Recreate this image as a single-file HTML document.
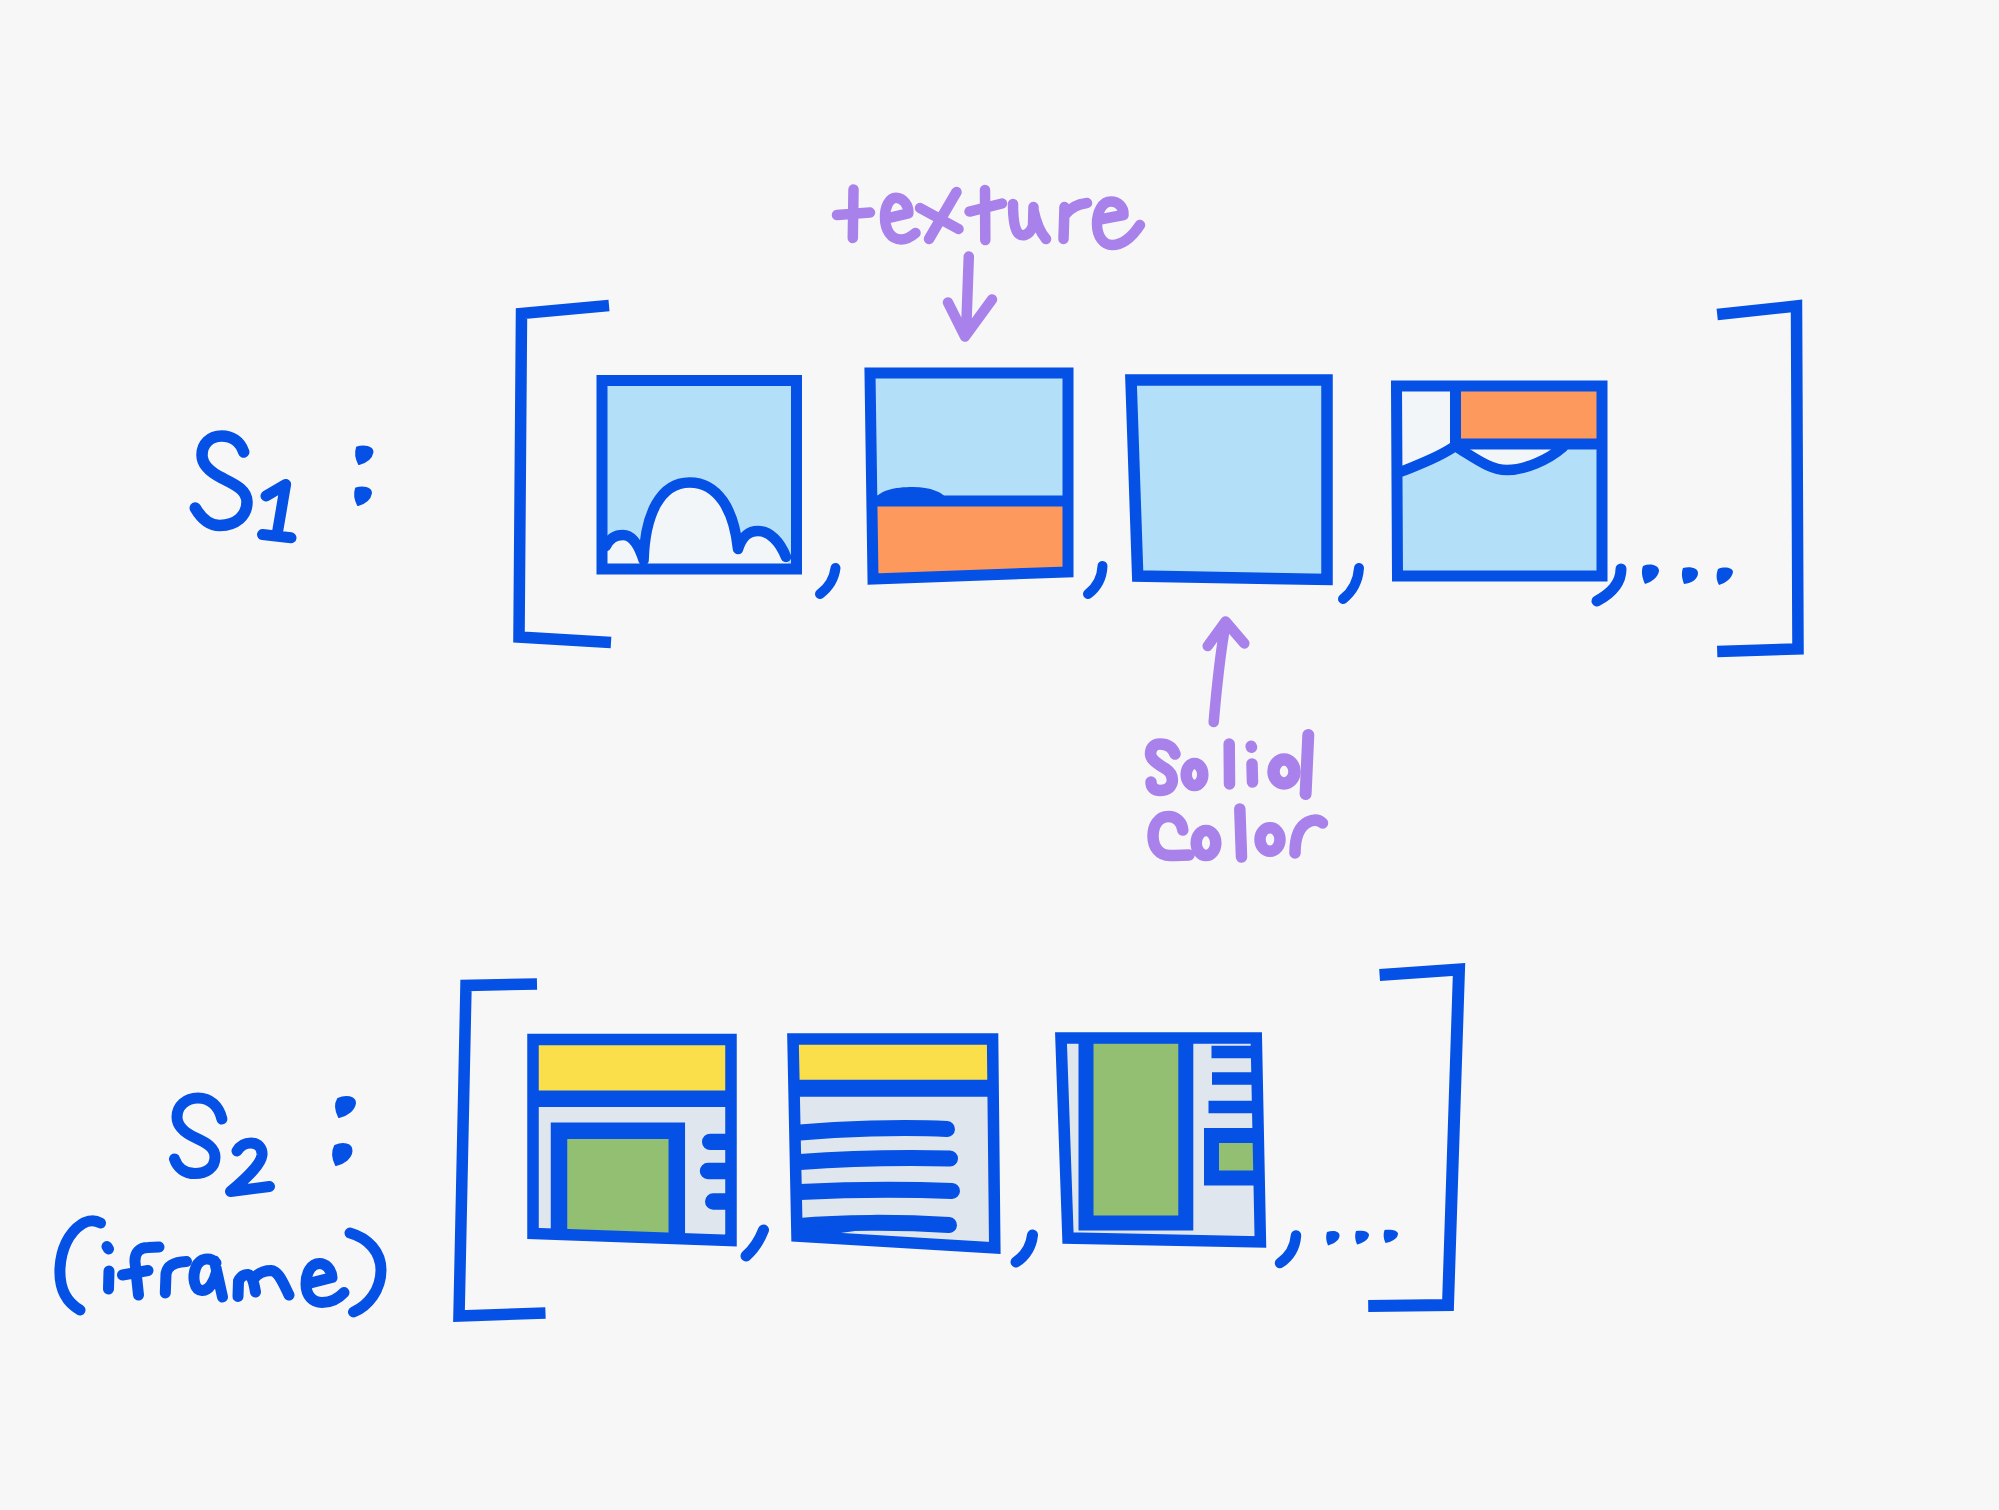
<!DOCTYPE html>
<html><head><meta charset="utf-8"><title>Diagram</title>
<style>
html,body{margin:0;padding:0;background:#f7f7f7;font-family:"Liberation Sans",sans-serif;}
svg{display:block;}
</style></head>
<body>
<svg width="1999" height="1510" viewBox="0 0 1999 1510">
<rect x="0" y="0" width="1999" height="1510" fill="#f7f7f7"/>

<!-- ============ ROW 1 ============ -->
<g id="row1" fill="none" stroke="#0550e5" stroke-width="11" stroke-linecap="round" stroke-linejoin="round">
  <!-- S1 -->
  <path d="M243.7,452 C240,441 231,436 221.7,436 C210,436 202,444 202,455 C202,466 212,473 222,478 C236,485 247,490 247,502 C247,516 236,525 220,525.5 C208,525.7 200,516 195.3,508" stroke-width="11.5"/>
  <path d="M266,496 L285.6,484.4 L277.3,533.4 M262.5,534.5 L291,537.8" stroke-width="11"/>
  <!-- colon -->
  <path d="M357,447.5 C364,445 372.5,447 372.5,452 C371.5,457.5 366,462 359,464 C356.5,459 355.5,452 357,447.5 Z" fill="#0550e5" stroke-width="2"/>
  <path d="M356,488.5 C363,486 371,488 371,493 C370,498.5 365,503 358,505 C355.5,500 354.5,493 356,488.5 Z" fill="#0550e5" stroke-width="2"/>

  <!-- left bracket -->
  <path d="M609,305.5 L521.5,313.5 L519,637 L611,642.5" stroke-width="11.5" stroke-linejoin="miter" stroke-linecap="butt"/>
  <!-- right bracket -->
  <path d="M1717.2,314.5 L1796.5,306 L1798,649 L1717.2,651.5" stroke-width="11.5" stroke-linejoin="miter" stroke-linecap="butt"/>
</g>

<!-- box 1 -->
<g>
  <rect x="602" y="380.5" width="194.5" height="188.5" fill="#b4dff8"/>
  <path d="M606,546 C610,538 615,535 623,535 C632,535 639,546 643.6,560 C645,515 660,482.4 689.6,482.4 C718,482.4 734,510 738,549 C742,537 748,531 758,531 C770,531 780,542 786,557 L790,569 L606,569 Z" fill="#f3f6f9"/>
  <path d="M606,546 C610,538 615,535 623,535 C632,535 639,546 643.6,560 C645,515 660,482.4 689.6,482.4 C718,482.4 734,510 738,549 C742,537 748,531 758,531 C770,531 780,542 786,557" fill="none" stroke="#0550e5" stroke-width="10.5" stroke-linecap="round" stroke-linejoin="round"/>
  <path d="M602,380.5 L796.5,380.5 L796.5,569 L602,569 Z" fill="none" stroke="#0550e5" stroke-width="11" stroke-linejoin="miter"/>
  <path d="M835.5,568 C834,580 828,588 820,594" fill="none" stroke="#0550e5" stroke-width="10" stroke-linecap="round"/>
</g>

<!-- box 2 -->
<g>
  <path d="M870,373 L1068,373 L1068,501 L871.5,501 Z" fill="#b4dff8"/>
  <path d="M871.5,501 L1068,501 L1068,572 L873,579 Z" fill="#fd995c"/>
  <path d="M874,501 C878,490 895,487 913,487 C930,487 944,492 948,501 Z" fill="#0550e5"/>
  <path d="M871.5,501 L1068,501" stroke="#0550e5" stroke-width="11" fill="none"/>
  <path d="M870,373 L1068,373 L1068,572 L873,579 Z" fill="none" stroke="#0550e5" stroke-width="11" stroke-linejoin="miter"/>
  <path d="M1102.5,566 C1102,578 1096,588 1088,594" fill="none" stroke="#0550e5" stroke-width="10" stroke-linecap="round"/>
</g>

<!-- box 3 -->
<g>
  <path d="M1131,380 L1327,380 L1327,579.5 L1137.7,576 Z" fill="#b4dff8" stroke="#0550e5" stroke-width="11.5" stroke-linejoin="miter"/>
  <path d="M1359,568 C1358,582 1352,592 1343,599" fill="none" stroke="#0550e5" stroke-width="10" stroke-linecap="round"/>
</g>

<!-- box 4 -->
<g>
  <path d="M1396.5,386 L1602,386 L1602,576 L1397.5,576 Z" fill="#b4dff8"/>
  <path d="M1401,391 L1455.5,391 L1455.5,446 C1445,453 1430,460 1401,471 Z" fill="#f3f6f9"/>
  <rect x="1455" y="386" width="147" height="58" fill="#fd995c"/>
  <path d="M1456,447 C1470,455 1490,470 1507,470 C1525,470 1550,458 1563,449 L1563,444 L1456,444 Z" fill="#f3f6f9"/>
  <path d="M1401.5,471.5 C1420,464 1440,457 1455,446 C1475,458 1490,470 1507,470 C1525,470 1548,460 1563,447" fill="none" stroke="#0550e5" stroke-width="10.5" stroke-linecap="round" stroke-linejoin="round"/>
  <path d="M1455.5,386 L1455.5,444 L1602,444" fill="none" stroke="#0550e5" stroke-width="11" stroke-linejoin="miter"/>
  <path d="M1396.5,386 L1602,386 L1602,576 L1397.5,576 Z" fill="none" stroke="#0550e5" stroke-width="11" stroke-linejoin="miter"/>
  <path d="M1621,569 C1621,584 1610,594 1597,601" fill="none" stroke="#0550e5" stroke-width="11" stroke-linecap="round"/>
  <!-- dots -->
  <path d="M1643,566 C1650,563 1659,565 1659,571 C1658,577 1652,582 1645,584 C1642,578 1641,571 1643,566 Z" fill="#0550e5"/>
  <path d="M1683,568 C1690,566 1698,568 1698,573 C1698,579 1692,583 1684,584 C1682,579 1681,573 1683,568 Z" fill="#0550e5"/>
  <path d="M1718,569 C1725,566 1733,568 1733,572 C1732,578 1726,583 1719,585 C1716,580 1716,574 1718,569 Z" fill="#0550e5"/>
</g>

<!-- purple annotations -->
<g fill="none" stroke="#a881ea" stroke-width="10.5" stroke-linecap="round" stroke-linejoin="round">
  <!-- texture -->
  <path d="M853.5,189.5 L852.8,238 M837,215 L870,212.6"/>
  <path d="M887,218.4 L908.3,213.4 C909,205 903,197.7 896,197.7 C889,197.7 885,207 885,217 C885,230 891,239.5 901,239.5 C907,239.5 912,236 915.5,233"/>
  <path d="M920,208 L958.5,229 M956.5,192 L929,239"/>
  <path d="M985,190 L985.3,240 M969.5,211.6 L1002,203.5"/>
  <path d="M1013,204 C1013,215 1014,228 1018,233 C1022,237 1029,236 1033,226 L1033.5,207 M1033.5,210 C1036,222 1040,232 1046,239"/>
  <path d="M1064.5,207 L1063.5,239 M1065,215 C1070,208 1078,204 1087,203"/>
  <path d="M1097,220 L1123.5,215 C1124,207 1118,201.5 1111,201.5 C1102,201.5 1097,212 1097,224 C1097,237 1104,245 1112,245 C1124,245 1134,234 1140,225"/>
  <!-- arrow down -->
  <path d="M968.8,256.5 L966,335 M948,302.5 L965,336.5 L992,299.5"/>
  <!-- arrow up -->
  <path d="M1213.7,722 C1216,695 1220,655 1225.5,624 M1207.7,646 L1225.5,621.5 L1244.3,643.4"/>
  <!-- Solid -->
  <g stroke-width="11.5">
  <path d="M1175,754 C1172,746 1166,744 1160,744 C1153,744 1150.5,749 1150.5,754 C1151,761 1160,765 1166,769 C1172,773 1173,778 1172,783 C1170,789 1165,790.5 1160,790.5 C1154,790.5 1151,787 1151,782"/>
  <ellipse cx="1194.5" cy="774.5" rx="8.3" ry="11"/>
  <path d="M1229.2,744 L1229.5,784"/>
  <path d="M1251.2,746.3 L1251.5,747.3 M1252,764 L1252.5,782"/>
  <ellipse cx="1284" cy="771.5" rx="10.5" ry="12" stroke-width="12.5"/>
  <path d="M1308.3,735 L1305.6,794" stroke-width="12"/>
  <!-- Color -->
  <path d="M1182.8,830 C1182,822 1176,816.5 1168.5,816.5 C1158,816.5 1153,826 1153,836 C1153,847 1159,855.5 1170,855.5 C1178,855.5 1184,855 1189,855"/>
  <ellipse cx="1206" cy="843" rx="9.8" ry="12.5"/>
  <path d="M1239.8,809 L1241.5,857"/>
  <ellipse cx="1270" cy="839.5" rx="10" ry="11.8"/>
  <path d="M1295,853 C1295,840 1298,827 1308,822 C1314,819 1319,820 1322.5,823"/>
  </g>
</g>

<!-- ============ ROW 2 ============ -->
<g fill="none" stroke="#0550e5" stroke-width="11" stroke-linecap="round" stroke-linejoin="round">
  <!-- S2 -->
  <path d="M221.9,1119 C219,1106 210,1098 198,1098 C186,1098 177,1106 177,1117 C177,1127 185,1133 196,1138 C207,1143 215,1148 215,1157 C215,1168 206,1173.6 195,1173.6 C185,1173.6 177.5,1168 174.5,1159"/>
  <path d="M237,1151 C240,1146 245,1143 251,1143 C258,1143 262.5,1148 262,1155 C261,1164 250,1175 230.5,1191.5 L269.5,1186.5"/>
  <path d="M338,1099 C346,1095 355,1097 355,1103 C354,1110 347,1115 339,1117 C336,1111 335,1104 338,1099 Z" fill="#0550e5" stroke-width="2"/>
  <path d="M335,1146 C343,1142 352,1144 351.5,1151 C351,1158 344,1163 336,1165 C333,1159 332,1152 335,1146 Z" fill="#0550e5" stroke-width="2"/>
  <!-- (iframe) -->
  <path d="M100.5,1223 C95,1220 88,1220 82,1224 C68,1233 61,1250 60,1268 C59,1288 66,1302 80,1310"/>
  <path d="M107,1246.5 L108.5,1249 M109,1271 L108.5,1289"/>
  <path d="M138.5,1295 L135,1262 C134.5,1252 140,1247.5 148,1247.5 L159,1247 M122.5,1275 L148,1270.5"/>
  <path d="M165.3,1293 L166,1274 C167,1266 174,1262 186.5,1261.5"/>
  <path d="M216,1263 C210,1256.5 200,1258 196,1267 C192,1277 194,1290 202,1290.5 C209,1291 214,1282 216.5,1272 M214.5,1261 L222.5,1297"/>
  <path d="M238,1296.5 L238.5,1281 C241,1276 244,1274.5 248,1274.5 C252,1275 254,1283 255.5,1292 M253.5,1279 C258,1273 265,1270.5 271,1270.5 C279,1271 284,1285 289,1295"/>
  <path d="M306.5,1284 L332,1277.5 C331.5,1269 325.5,1263.5 319.5,1263.5 C311,1263.5 306,1273 306,1284 C306,1296 313,1302.5 322,1302.5 C331,1302.5 339,1298 344,1292.5"/>
  <path d="M350,1233 C368,1238 381,1252 381,1270 C381,1290 368,1306 353.5,1312"/>

  <!-- left bracket -->
  <path d="M537,984 L466,985.5 L459,1316 L545.5,1313" stroke-width="11.5" stroke-linejoin="miter" stroke-linecap="butt"/>
  <!-- right bracket -->
  <path d="M1379.6,975 L1459,969.5 L1448,1305 L1368.2,1306" stroke-width="12" stroke-linejoin="miter" stroke-linecap="butt"/>
</g>

<!-- iframe box 1 -->
<g>
  <path d="M533,1039.5 L731,1039.5 L731,1240.5 L533,1233.5 Z" fill="#dfe6ee"/>
  <rect x="538" y="1045" width="188" height="46" fill="#fadf4b"/>
  <path d="M559,1234 L559,1130.8 L676.8,1130.8 L676.8,1240" fill="#92bf72" stroke="#0550e5" stroke-width="16.5" stroke-linejoin="miter"/>
  <path d="M710.2,1141.9 L728,1141.9 M708,1171 L728,1171 M713.2,1201.5 L728,1201.5" stroke="#0550e5" stroke-width="16.4" stroke-linecap="round"/>
  <path d="M538,1098.7 L726,1098.7" stroke="#0550e5" stroke-width="16.5"/>
  <path d="M533,1039.5 L731,1039.5 L731,1240.5 L533,1233.5 Z" fill="none" stroke="#0550e5" stroke-width="11.5" stroke-linejoin="miter"/>
  <path d="M763.5,1230 C760,1239 754,1249 746,1256" fill="none" stroke="#0550e5" stroke-width="11" stroke-linecap="round"/>
</g>

<!-- iframe box 2 -->
<g>
  <path d="M793,1039 L992.6,1039 L994.8,1248 L797,1236 Z" fill="#dfe6ee"/>
  <rect x="798" y="1044" width="190" height="36" fill="#fadf4b"/>
  <path d="M798,1088.2 L990,1088.2" stroke="#0550e5" stroke-width="17" fill="none"/>
  <g stroke="#0550e5" stroke-width="16" stroke-linecap="round" fill="none">
    <path d="M800,1132.5 C840,1129 900,1126.5 947,1129"/>
    <path d="M800,1162 C840,1159 900,1157.5 950,1158.5"/>
    <path d="M800,1192 C840,1190 900,1189 952,1191"/>
    <path d="M800,1226 C840,1222 900,1222 949,1225"/>
  </g>
  <path d="M797,1224 L855,1231 L797,1239 Z" fill="#0550e5"/>
  <path d="M793,1039 L992.6,1039 L994.8,1248 L797,1236 Z" fill="none" stroke="#0550e5" stroke-width="11.5" stroke-linejoin="miter"/>
  <path d="M1032.5,1235 C1031,1248 1025,1256 1016,1262" fill="none" stroke="#0550e5" stroke-width="11" stroke-linecap="round"/>
</g>

<!-- iframe box 3 -->
<g>
  <path d="M1061,1038 L1256.3,1038 L1260.4,1242 L1068,1238 Z" fill="#dfe6ee"/>
  <path d="M1086,1040 L1086,1223 L1185.8,1223 L1185.8,1040" fill="#92bf72" stroke="#0550e5" stroke-width="15" stroke-linejoin="miter"/>
  <path d="M1211.5,1130 L1211.5,1178 L1256,1178 L1256,1135.5 Z" fill="#92bf72"/>
  <path d="M1256,1135.5 L1211.5,1135.5 L1211.5,1178 L1256,1178" fill="none" stroke="#0550e5" stroke-width="15" stroke-linejoin="miter"/>
  <path d="M1211.5,1052 L1253,1052 M1212,1078.5 L1253,1078.5 M1208.5,1107 L1253,1107" stroke="#0550e5" stroke-width="12.5" stroke-linecap="butt" fill="none"/>
  <path d="M1061,1038 L1256.3,1038 L1260.4,1242 L1068,1238 Z" fill="none" stroke="#0550e5" stroke-width="11.5" stroke-linejoin="miter"/>
  <path d="M1296,1235.5 C1295,1248 1289,1257 1280,1263" fill="none" stroke="#0550e5" stroke-width="10.5" stroke-linecap="round"/>
  <path d="M1327,1232 C1333,1230 1340,1231 1339.5,1236 C1339,1241 1333,1244 1328,1245.5 C1326,1241 1325.5,1236 1327,1232 Z" fill="#0550e5"/>
  <path d="M1356,1231 C1362,1230 1369,1231 1369,1235 C1368.5,1240 1362,1243.5 1357,1244.5 C1355,1240 1354.5,1235 1356,1231 Z" fill="#0550e5"/>
  <path d="M1384.5,1230 C1390,1229 1398.5,1230 1398,1234 C1397.5,1239 1391,1242 1385.5,1243 C1383.5,1239 1383,1234 1384.5,1230 Z" fill="#0550e5"/>
</g>

</svg>
</body></html>
